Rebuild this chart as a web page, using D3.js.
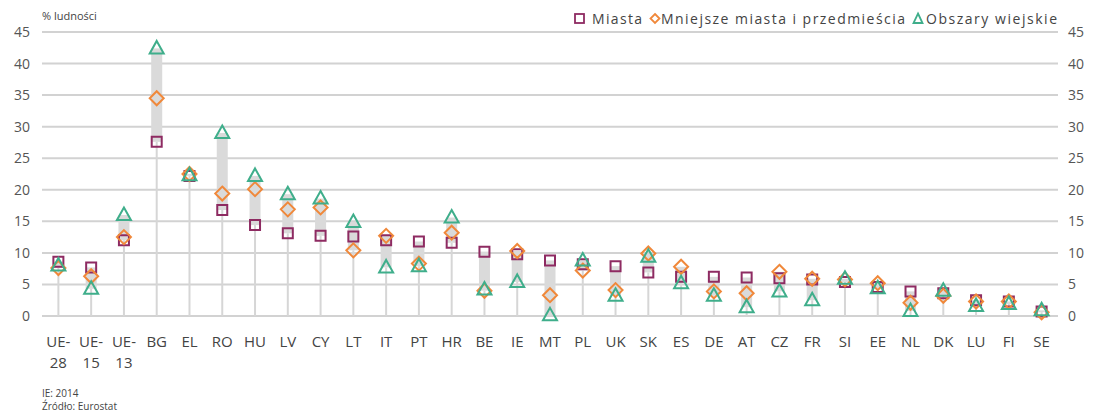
<!DOCTYPE html>
<html>
<head>
<meta charset="utf-8">
<script src="https://cdn.jsdelivr.net/npm/d3@7"></script>
<style>
  body { margin:0; background:#fff; }
  #plot { width:1093px; height:417px; }
  text { font-family:"Open Sans", sans-serif; }
</style>
</head>
<body>
<div id="plot"></div>
<script>
// data
var countries = ["UE-28","UE-15","UE-13","BG","EL","RO","HU","LV","CY","LT","IT","PT","HR","BE","IE","MT","PL","UK","SK","ES","DE","AT","CZ","FR","SI","EE","NL","DK","LU","FI","SE"];
var miasta   = [8.6,7.7,12.0,27.6,22.2,16.8,14.4,13.1,12.7,12.6,12.0,11.8,11.6,10.2,9.8,8.8,8.2,7.9,6.9,6.2,6.2,6.1,6.0,5.8,5.4,4.6,3.9,3.6,2.5,2.3,0.7];
var mniejsze = [7.6,6.3,12.5,34.5,22.5,19.4,20.1,16.9,17.2,10.4,12.7,8.3,13.2,4.0,10.3,3.3,7.2,4.1,9.9,7.8,3.9,3.6,7.0,5.9,5.8,5.2,2.1,3.2,2.3,2.3,0.6];
var wiejskie = [8.0,4.3,16.0,42.4,22.3,29.0,22.2,19.3,18.6,14.9,7.7,7.9,15.6,4.2,5.4,0.1,8.8,3.2,9.4,5.2,3.2,1.4,3.9,2.5,5.9,4.4,0.8,4.0,1.6,1.9,0.9];
var yTicks = [0,5,10,15,20,25,30,35,40,45];

var colSq = "#8e2b62", colDi = "#f0883a", colTr = "#3fae8b";

var W = 1093, H = 417;
var svg = d3.select('#plot').append('svg').attr('width',W).attr('height',H);

var x = d3.scaleBand().domain(countries).range([42,1058]);
var y = d3.scaleLinear().domain([0,45]).range([316,32]);

// gridlines
svg.append('g').selectAll('line').data(yTicks).enter().append('line')
  .attr('x1',42).attr('x2',1058)
  .attr('y1',function(d){return y(d);}).attr('y2',function(d){return y(d);})
  .style('stroke','#d2d2d2').style('stroke-width',2);

// axes labels
var axL = d3.axisLeft(y).tickValues(yTicks).tickSize(0).tickPadding(0);
svg.append('g').attr('transform','translate(30,0)').call(axL)
  .call(function(g){g.select('.domain').remove();})
  .selectAll('text').style('font-size','14px').style('fill','#555');
var axR = d3.axisRight(y).tickValues(yTicks).tickSize(0).tickPadding(0);
svg.append('g').attr('transform','translate(1068,0)').call(axR)
  .call(function(g){g.select('.domain').remove();})
  .selectAll('text').style('font-size','14px').style('fill','#555');

var rows = countries.map(function(c,i){
  return {c:c, a:miasta[i], b:mniejsze[i], t:wiejskie[i]};
});

// stems and ranges
var cx = function(d){ return x(d.c) + x.bandwidth()/2; };
svg.append('g').selectAll('line').data(rows).enter().append('line')
  .attr('x1',cx).attr('x2',cx)
  .attr('y1',y(0)).attr('y2',function(d){return y(Math.min(d.a,d.b,d.t));})
  .style('stroke','#d6d6d6').style('stroke-width',2);
svg.append('g').selectAll('rect').data(rows).enter().append('rect')
  .attr('x',function(d){return cx(d)-5.5;}).attr('width',11)
  .attr('y',function(d){return y(Math.max(d.a,d.b,d.t));})
  .attr('height',function(d){return y(Math.min(d.a,d.b,d.t)) - y(Math.max(d.a,d.b,d.t));})
  .style('fill','#dadada');

// markers
var sym = function(type,size){ return d3.symbol().type(type).size(size)(); };
svg.append('g').selectAll('path').data(rows).enter().append('path')
  .attr('d',sym(d3.symbolSquare,100))
  .attr('transform',function(d){return 'translate('+cx(d)+','+y(d.a)+')';})
  .style('fill','none').style('stroke',colSq).style('stroke-width',2);
svg.append('g').selectAll('path').data(rows).enter().append('path')
  .attr('d','M0,-7L7,0L0,7L-7,0Z')
  .attr('transform',function(d){return 'translate('+cx(d)+','+y(d.b)+')';})
  .style('fill','none').style('stroke',colDi).style('stroke-width',2);
svg.append('g').selectAll('path').data(rows).enter().append('path')
  .attr('d','M0,-7.5L7,5L-7,5Z')
  .attr('transform',function(d){return 'translate('+cx(d)+','+y(d.t)+')';})
  .style('fill','none').style('stroke',colTr).style('stroke-width',2);

// category labels
var lab = svg.append('g').selectAll('text').data(countries).enter().append('text')
  .attr('x',function(d){return x(d)+x.bandwidth()/2;})
  .attr('y',347).attr('text-anchor','middle')
  .style('font-size','15px').style('fill','#444');
lab.each(function(d){
  var parts = d.indexOf('-')>0 ? [d.split('-')[0]+'-', d.split('-')[1]] : [d];
  var t = d3.select(this);
  parts.forEach(function(p,i){
    t.append('tspan').attr('x',t.attr('x')).attr('dy',i?21:0).text(p);
  });
});

// titles, legend, notes
svg.append('text').attr('x',42).attr('y',20).text('% ludności')
  .style('font-size','11px').style('fill','#444');

var lg = svg.append('g').attr('transform','translate(0,24)');
lg.append('rect').attr('x',575).attr('y',-10).attr('width',9).attr('height',9)
  .style('fill','none').style('stroke',colSq).style('stroke-width',1.8);
lg.append('text').attr('x',592).attr('y',0).attr('textLength',50).text('Miasta');
lg.append('path').attr('d','M655,-10L659.5,-5.5L655,-1L650.5,-5.5Z')
  .style('fill','none').style('stroke',colDi).style('stroke-width',1.8);
lg.append('text').attr('x',661).attr('y',0).attr('textLength',244).text('Mniejsze miasta i przedmieścia');
lg.append('path').attr('d','M918,-10.5L922.5,-1L913.5,-1Z')
  .style('fill','none').style('stroke',colTr).style('stroke-width',1.8);
lg.append('text').attr('x',926).attr('y',0).attr('textLength',131).text('Obszary wiejskie');
lg.selectAll('text').style('font-size','14px').style('fill','#444');

svg.append('text').attr('x',42).attr('y',397).text('IE: 2014')
  .style('font-size','10px').style('fill','#444');
svg.append('text').attr('x',42).attr('y',410).text('Źródło: Eurostat')
  .style('font-size','10px').style('fill','#444');
</script>
</body>
</html>
